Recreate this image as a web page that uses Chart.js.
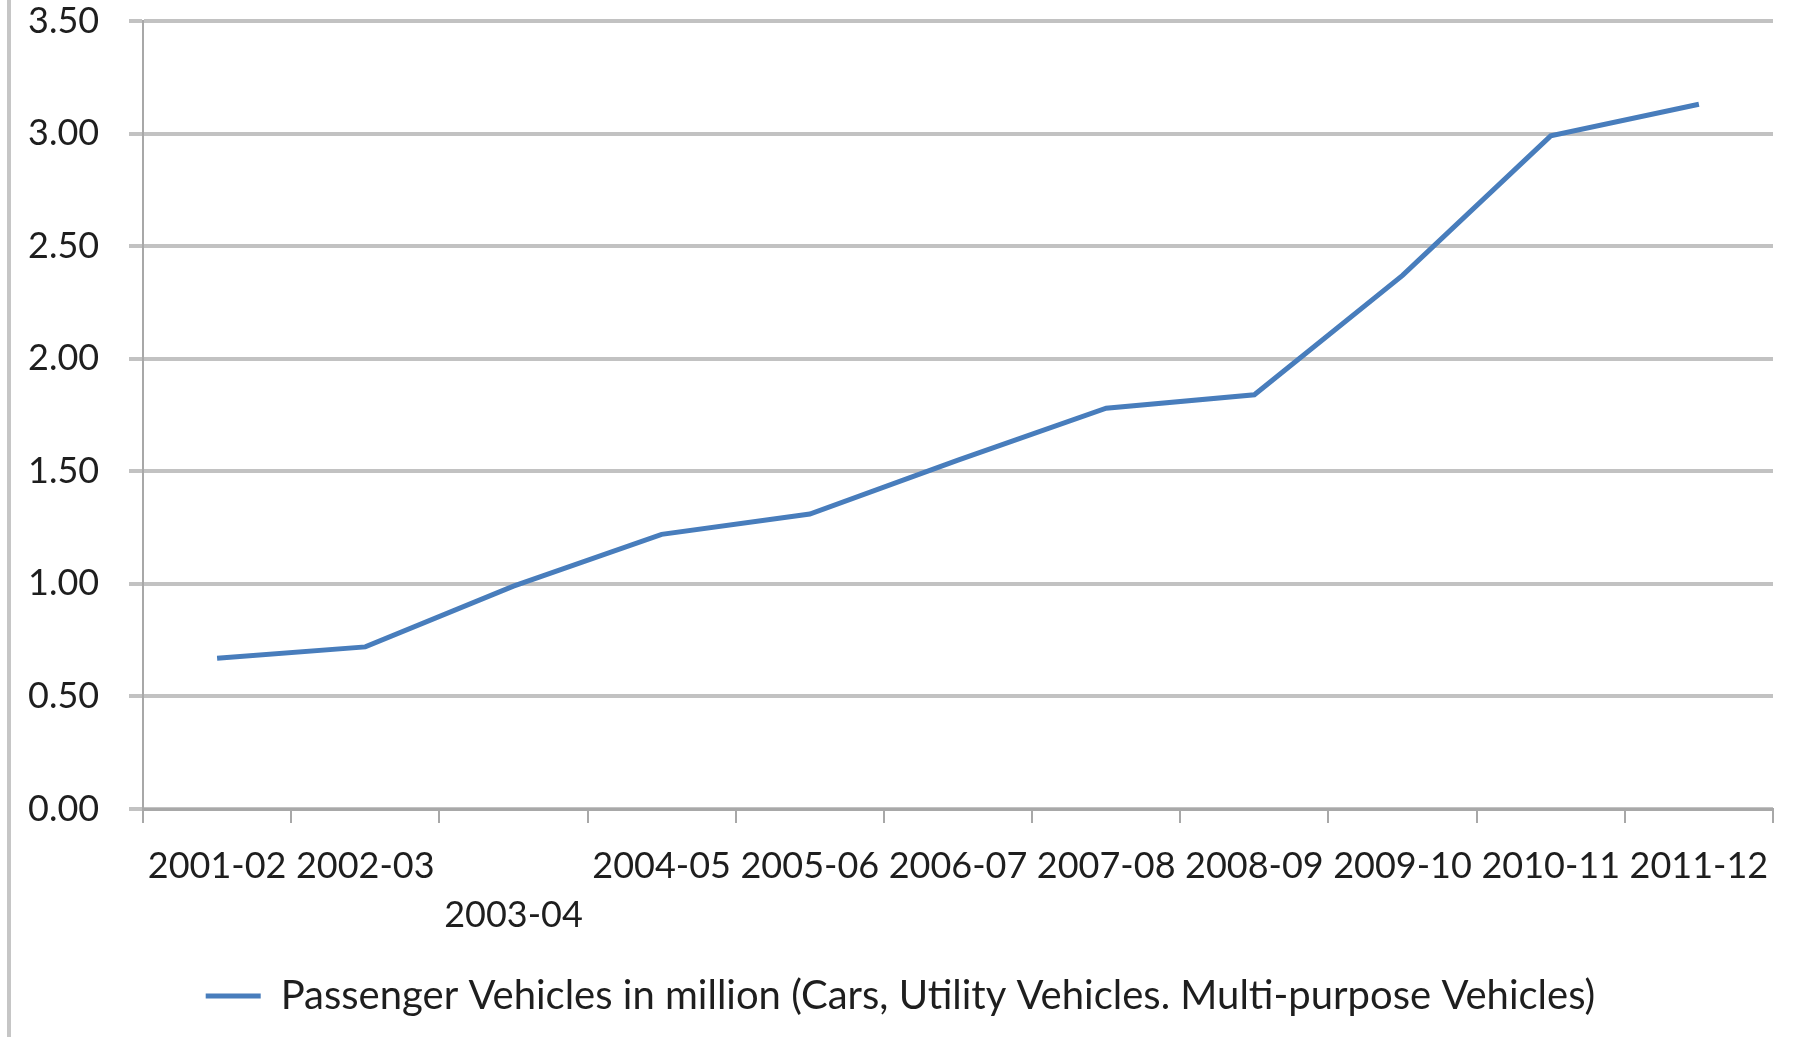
<!DOCTYPE html>
<html>
<head>
<meta charset="utf-8">
<script src="https://cdn.jsdelivr.net/npm/chart.js@4/dist/chart.umd.min.js"></script>
<style>
    body { margin: 0; background: #fff; }
    #wrap { position: relative; width: 1794px; height: 1037px; }
    #frame { position: absolute; left: 7px; top: 0; width: 4px; height: 1037px; background: #c6c6c6; }
    #chart { position: absolute; left: 0; top: 0; }
</style>
</head>
<body>
<div id="wrap">
    <div id="frame"></div>
    <canvas id="chart" width="1794" height="1037"></canvas>
</div>
<script>
/*
 * Passenger vehicles sold per year, in million
 */
const years = ['2001-02', '2002-03', '2003-04', '2004-05', '2005-06', '2006-07',
    '2007-08', '2008-09', '2009-10', '2010-11', '2011-12'];
const passengerVehicles = [0.67, 0.72, 0.99, 1.22, 1.31, 1.55, 1.78, 1.84, 2.37, 2.99, 3.13];
const seriesName = 'Passenger Vehicles in million (Cars, Utility Vehicles. Multi-purpose Vehicles)';

const textColor = '#1e1e1e';
const gridColor = '#c2c2c2';
const axisColor = '#a8a8a8';
const lineColor = 'rgb(72, 125, 188)';

function createVehiclesChart(canvas) {
    new Chart(canvas.getContext('2d'), {
        type: 'line',
        data: {
            labels: years,
            datasets: [{
                label: seriesName,
                data: passengerVehicles,
                borderColor: lineColor,
                backgroundColor: lineColor,
                borderWidth: 5,
                pointRadius: 0,
                tension: 0
            }]
        },
        options: {
            responsive: false,
            animation: false,
            layout: {
                padding: { left: 28, right: 21, top: 21, bottom: 11 }
            },
            plugins: {
                tooltip: { enabled: false },
                legend: {
                    position: 'bottom',
                    labels: {
                        usePointStyle: true,
                        pointStyle: 'line',
                        pointStyleWidth: 55,
                        padding: 10,
                        color: textColor,
                        font: { family: 'Lato', size: 40 }
                    }
                }
            },
            scales: {
                x: {
                    offset: true,
                    grid: {
                        offset: true,
                        drawOnChartArea: false,
                        color: axisColor,
                        lineWidth: 2,
                        tickLength: 14
                    },
                    border: { color: axisColor, width: 3 },
                    ticks: {
                        autoSkip: false,
                        maxRotation: 0,
                        minRotation: 0,
                        padding: 19,
                        color: textColor,
                        font: { family: 'Lato', size: 36, lineHeight: 1.35 },
                        // Excel put the third label on a second row
                        callback: function (value, index) {
                            let label = this.getLabelForValue(value);
                            return index === 2 ? ['', label] : label;
                        }
                    },
                    afterFit: function (scale) {
                        scale.height = 157;
                    }
                },
                y: {
                    min: 0,
                    max: 3.5,
                    grid: {
                        color: gridColor,
                        lineWidth: 4,
                        tickLength: 14
                    },
                    border: { color: axisColor, width: 2 },
                    ticks: {
                        stepSize: 0.5,
                        padding: 0,
                        crossAlign: 'far',
                        color: textColor,
                        font: { family: 'Lato', size: 36, lineHeight: 1.0 },
                        callback: function (value) {
                            return value.toFixed(2);
                        }
                    },
                    afterFit: function (scale) {
                        scale.width = 115;
                    }
                }
            }
        }
    });
}

createVehiclesChart(document.getElementById('chart'));
</script>
</body>
</html>
